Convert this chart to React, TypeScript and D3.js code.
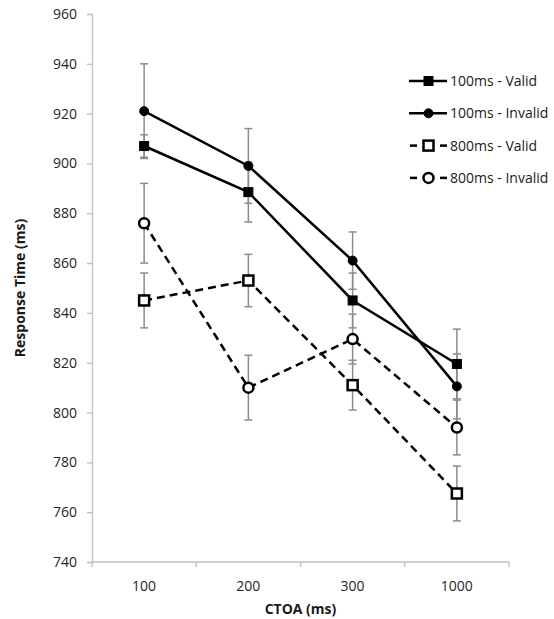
import React, { useEffect, useRef } from "react";
import * as d3 from "d3";

// CTOA categories
const categories = ["100", "200", "300", "1000"];

// mean response times (ms)
const valid100 = [907, 888.5, 845, 819.5];
const invalid100 = [921, 899, 861, 810.5];
const valid800 = [845, 853, 811, 767.5];
const invalid800 = [876, 810, 829.5, 794];

// error bar half-widths (ms)
const valid100Err = [4.5, 12, 11, 14];
const invalid100Err = [19, 15, 11.5, 13];
const valid800Err = [11, 10.5, 10, 11];
const invalid800Err = [16, 13, 10, 11];

const yTicks = [740, 760, 780, 800, 820, 840, 860, 880, 900, 920, 940, 960];

const seriesNames = ["100ms - Valid", "100ms - Invalid", "800ms - Valid", "800ms - Invalid"];

const App = () => {
    const svgRef = useRef<SVGSVGElement>(null);

    useEffect(() => {
        const svg = d3.select(svgRef.current);
        svg.selectAll("*").remove();

        const width = 554;
        const height = 619;
        const margin = { top: 14, right: 45, bottom: 57, left: 92 };
        const font = "'Open Sans', 'Liberation Sans', sans-serif";

        const x = d3.scaleBand().domain(categories).range([margin.left, width - margin.right]);
        const y = d3.scaleLinear().domain([740, 960]).range([height - margin.bottom, margin.top]);
        const cx = (c: string) => (x(c) as number) + x.bandwidth() / 2;

        const series = [
            { name: seriesNames[0], values: valid100, err: valid100Err, dashed: false, shape: "square", filled: true },
            { name: seriesNames[1], values: invalid100, err: invalid100Err, dashed: false, shape: "circle", filled: true },
            { name: seriesNames[2], values: valid800, err: valid800Err, dashed: true, shape: "square", filled: false },
            { name: seriesNames[3], values: invalid800, err: invalid800Err, dashed: true, shape: "circle", filled: false },
        ];

        // y axis
        const yAxis = svg.append("g")
            .attr("transform", `translate(${margin.left},0)`)
            .call(d3.axisLeft(y).tickValues(yTicks).tickSize(5).tickPadding(10));
        yAxis.select(".domain").attr("stroke", "#bfbfbf").attr("stroke-width", 1.3);
        yAxis.selectAll(".tick line").attr("stroke", "#bfbfbf").attr("stroke-width", 1.3);
        yAxis.selectAll(".tick text")
            .attr("font-family", font).attr("font-size", 14).attr("fill", "#262626");

        // x axis: ticks at band edges
        const xAxis = svg.append("g")
            .attr("transform", `translate(0,${height - margin.bottom})`);
        xAxis.append("line")
            .attr("x1", margin.left).attr("x2", width - margin.right)
            .attr("stroke", "#bfbfbf").attr("stroke-width", 1.3);
        const edges = categories.map(c => x(c) as number).concat([width - margin.right]);
        xAxis.selectAll("line.edge").data(edges).join("line")
            .attr("class", "edge")
            .attr("x1", d => d).attr("x2", d => d).attr("y1", 0).attr("y2", 5)
            .attr("stroke", "#bfbfbf").attr("stroke-width", 1.3);
        xAxis.selectAll("text").data(categories).join("text")
            .attr("x", d => cx(d)).attr("y", 29)
            .attr("text-anchor", "middle")
            .attr("font-family", font).attr("font-size", 14).attr("fill", "#262626")
            .text(d => d);

        // axis titles
        svg.append("text")
            .attr("x", (margin.left + width - margin.right) / 2).attr("y", 614)
            .attr("text-anchor", "middle")
            .attr("font-family", font).attr("font-size", 14).attr("font-weight", "bold")
            .attr("fill", "#1a1a1a")
            .text("CTOA (ms)");
        svg.append("text")
            .attr("transform", `translate(25,${(margin.top + height - margin.bottom) / 2}) rotate(-90)`)
            .attr("text-anchor", "middle")
            .attr("font-family", font).attr("font-size", 14).attr("font-weight", "bold")
            .attr("fill", "#1a1a1a")
            .text("Response Time (ms)");

        // error bars
        series.forEach(s => {
            const g = svg.append("g").attr("stroke", "#8c8c8c").attr("stroke-width", 1.5);
            categories.forEach((c, i) => {
                const hi = y(s.values[i] + s.err[i]);
                const lo = y(s.values[i] - s.err[i]);
                g.append("line").attr("x1", cx(c)).attr("x2", cx(c)).attr("y1", hi).attr("y2", lo);
                g.append("line").attr("x1", cx(c) - 4).attr("x2", cx(c) + 4).attr("y1", hi).attr("y2", hi);
                g.append("line").attr("x1", cx(c) - 4).attr("x2", cx(c) + 4).attr("y1", lo).attr("y2", lo);
            });
        });

        // marker helper
        const drawMarker = (g: any, s: any, px: number, py: number) => {
            if (s.shape === "square") {
                const size = s.filled ? 9 : 10;
                g.append("rect")
                    .attr("x", px - size / 2).attr("y", py - size / 2)
                    .attr("width", size).attr("height", size)
                    .attr("fill", s.filled ? "#000" : "#fff")
                    .attr("stroke", "#000").attr("stroke-width", s.filled ? 1 : 2.5);
            } else {
                g.append("circle")
                    .attr("cx", px).attr("cy", py).attr("r", s.filled ? 4.5 : 5)
                    .attr("fill", s.filled ? "#000" : "#fff")
                    .attr("stroke", "#000").attr("stroke-width", s.filled ? 1 : 2.5);
            }
        };

        const line = d3.line<number>()
            .x((_, i) => cx(categories[i]))
            .y(d => y(d));

        // lines
        series.forEach(s => {
            svg.append("path")
                .datum(s.values)
                .attr("fill", "none")
                .attr("stroke", "#000")
                .attr("stroke-width", 2.5)
                .attr("stroke-dasharray", s.dashed ? "8,5" : null)
                .attr("d", line);
        });

        // markers
        series.forEach(s => {
            const g = svg.append("g");
            s.values.forEach((v, i) => drawMarker(g, s, cx(categories[i]), y(v)));
        });

        // legend
        const legend = svg.append("g");
        series.forEach((s, i) => {
            const ly = 81 + i * 32.3;
            const g = legend.append("g");
            if (s.dashed) {
                g.append("line").attr("x1", 410).attr("x2", 417).attr("y1", ly).attr("y2", ly)
                    .attr("stroke", "#000").attr("stroke-width", 2.5);
                g.append("line").attr("x1", 440).attr("x2", 447).attr("y1", ly).attr("y2", ly)
                    .attr("stroke", "#000").attr("stroke-width", 2.5);
            } else {
                g.append("line").attr("x1", 409).attr("x2", 447).attr("y1", ly).attr("y2", ly)
                    .attr("stroke", "#000").attr("stroke-width", 2.5);
            }
            drawMarker(g, s, 428.5, ly);
            g.append("text")
                .attr("x", 450).attr("y", ly + 5)
                .attr("font-family", font).attr("font-size", 14).attr("fill", "#1a1a1a")
                .text(s.name);
        });
    }, []);

    return (
        <svg
            ref={svgRef}
            width={554}
            height={619}
            style={{ position: "absolute", left: 0, top: 0, background: "#fff" }}
        />
    );
};

export default App;
